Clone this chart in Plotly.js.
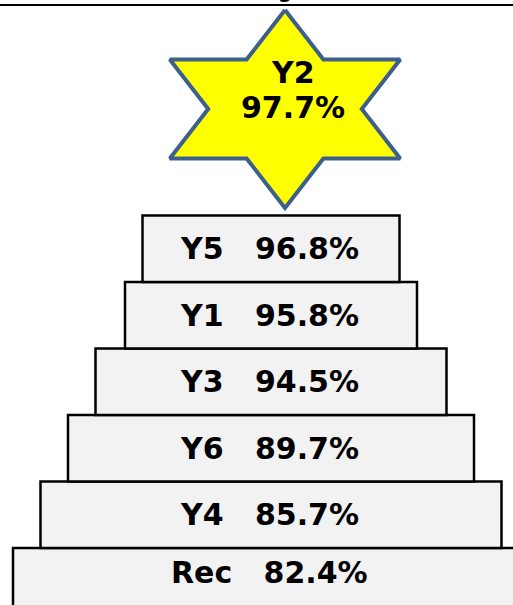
<!DOCTYPE html>
<html><head><meta charset="utf-8">
<script src="https://cdn.plot.ly/plotly-3.0.1.min.js"></script>
<style>html,body{margin:0;padding:0;background:#fff;overflow:hidden}</style>
</head><body><div id="chart" style="width:513px;height:605px"></div>
<script>
// ---- data ----
const tierLabels = ['Rec', 'Y4', 'Y6', 'Y3', 'Y1', 'Y5'];
const tierValues = [82.4, 85.7, 89.7, 94.5, 95.8, 96.8];
const winnerLabel = 'Y2';
const winnerValue = 97.7;
const titleFragment = 'g';

// ---- layout constants (design, not data) ----
const TIER_WIDTHS = [516, 461, 406, 351, 292, 257];
const PX_PER_ROW = 66.5;
const ROW0_PX = 581.25;
const H = 605, W = 513;
const CENTER_PX = 271;
const yTop = ROW0_PX / PX_PER_ROW;
const yBottom = (ROW0_PX - H) / PX_PER_ROW;
const STAR = {cx: 14, cy: (ROW0_PX - 109) / PX_PER_ROW, rx: 133, ry: 99 / PX_PER_ROW};

const rows = tierLabels.map((_, i) => i);
const FONT = {family: 'DejaVu Sans, Verdana, sans-serif', size: 30, color: '#000', weight: 'bold'};

const bars = {
  type: 'bar', orientation: 'h',
  y: rows, x: TIER_WIDTHS, base: TIER_WIDTHS.map(w => -w / 2),
  width: 1,
  marker: {color: '#F2F2F2', line: {color: '#000', width: 2.5}},
  hoverinfo: 'skip'
};

const sx = [], sy = [];
for (let k = 0; k <= 12; k++) {
  const a = (90 - 30 * k) * Math.PI / 180;
  const r = (k % 2 === 0) ? 1 : 1 / Math.sqrt(3);
  sx.push(STAR.cx + STAR.rx * r * Math.cos(a));
  sy.push(STAR.cy + STAR.ry * r * Math.sin(a));
}
const star = {
  type: 'scatter', mode: 'lines', x: sx, y: sy, fill: 'toself',
  fillcolor: '#FFFF00', line: {color: '#3D5F8C', width: 4},
  hoverinfo: 'skip'
};

const NB = '\u00A0\u00A0\u00A0';
const annotations = tierLabels.map((lab, i) => ({
  x: 0, y: i, xref: 'x', yref: 'y', showarrow: false,
  text: lab + NB + tierValues[i].toFixed(1) + '%',
  font: FONT, xshift: -2, yshift: i === 0 ? 9 : 0
}));
annotations.push({
  x: STAR.cx, y: STAR.cy, xref: 'x', yref: 'y', showarrow: false,
  text: winnerLabel, font: FONT, xshift: 8, yshift: 37
});
annotations.push({
  x: STAR.cx, y: STAR.cy, xref: 'x', yref: 'y', showarrow: false,
  text: winnerValue.toFixed(1) + '%', font: FONT, xshift: 8, yshift: 2
});
annotations.push({
  x: STAR.cx, y: 1, xref: 'x', yref: 'paper', yanchor: 'bottom', showarrow: false,
  text: titleFragment, font: {family: 'DejaVu Sans, sans-serif', size: 26, color: '#000'},
  yshift: -4
});

const layout = {
  width: W, height: H,
  margin: {l: 0, r: 0, t: 0, b: 0, pad: 0},
  paper_bgcolor: '#fff', plot_bgcolor: '#fff',
  showlegend: false,
  xaxis: {range: [-CENTER_PX, W - CENTER_PX], visible: false, fixedrange: true},
  yaxis: {range: [yBottom, yTop], visible: false, fixedrange: true},
  annotations: annotations,
  shapes: [{type: 'line', xref: 'paper', yref: 'paper', x0: 0, x1: 1,
            y0: 1 - 5 / H, y1: 1 - 5 / H, line: {color: '#000', width: 2}}]
};

Plotly.newPlot('chart', [bars, star], layout, {displayModeBar: false, staticPlot: true});
</script></body></html>
